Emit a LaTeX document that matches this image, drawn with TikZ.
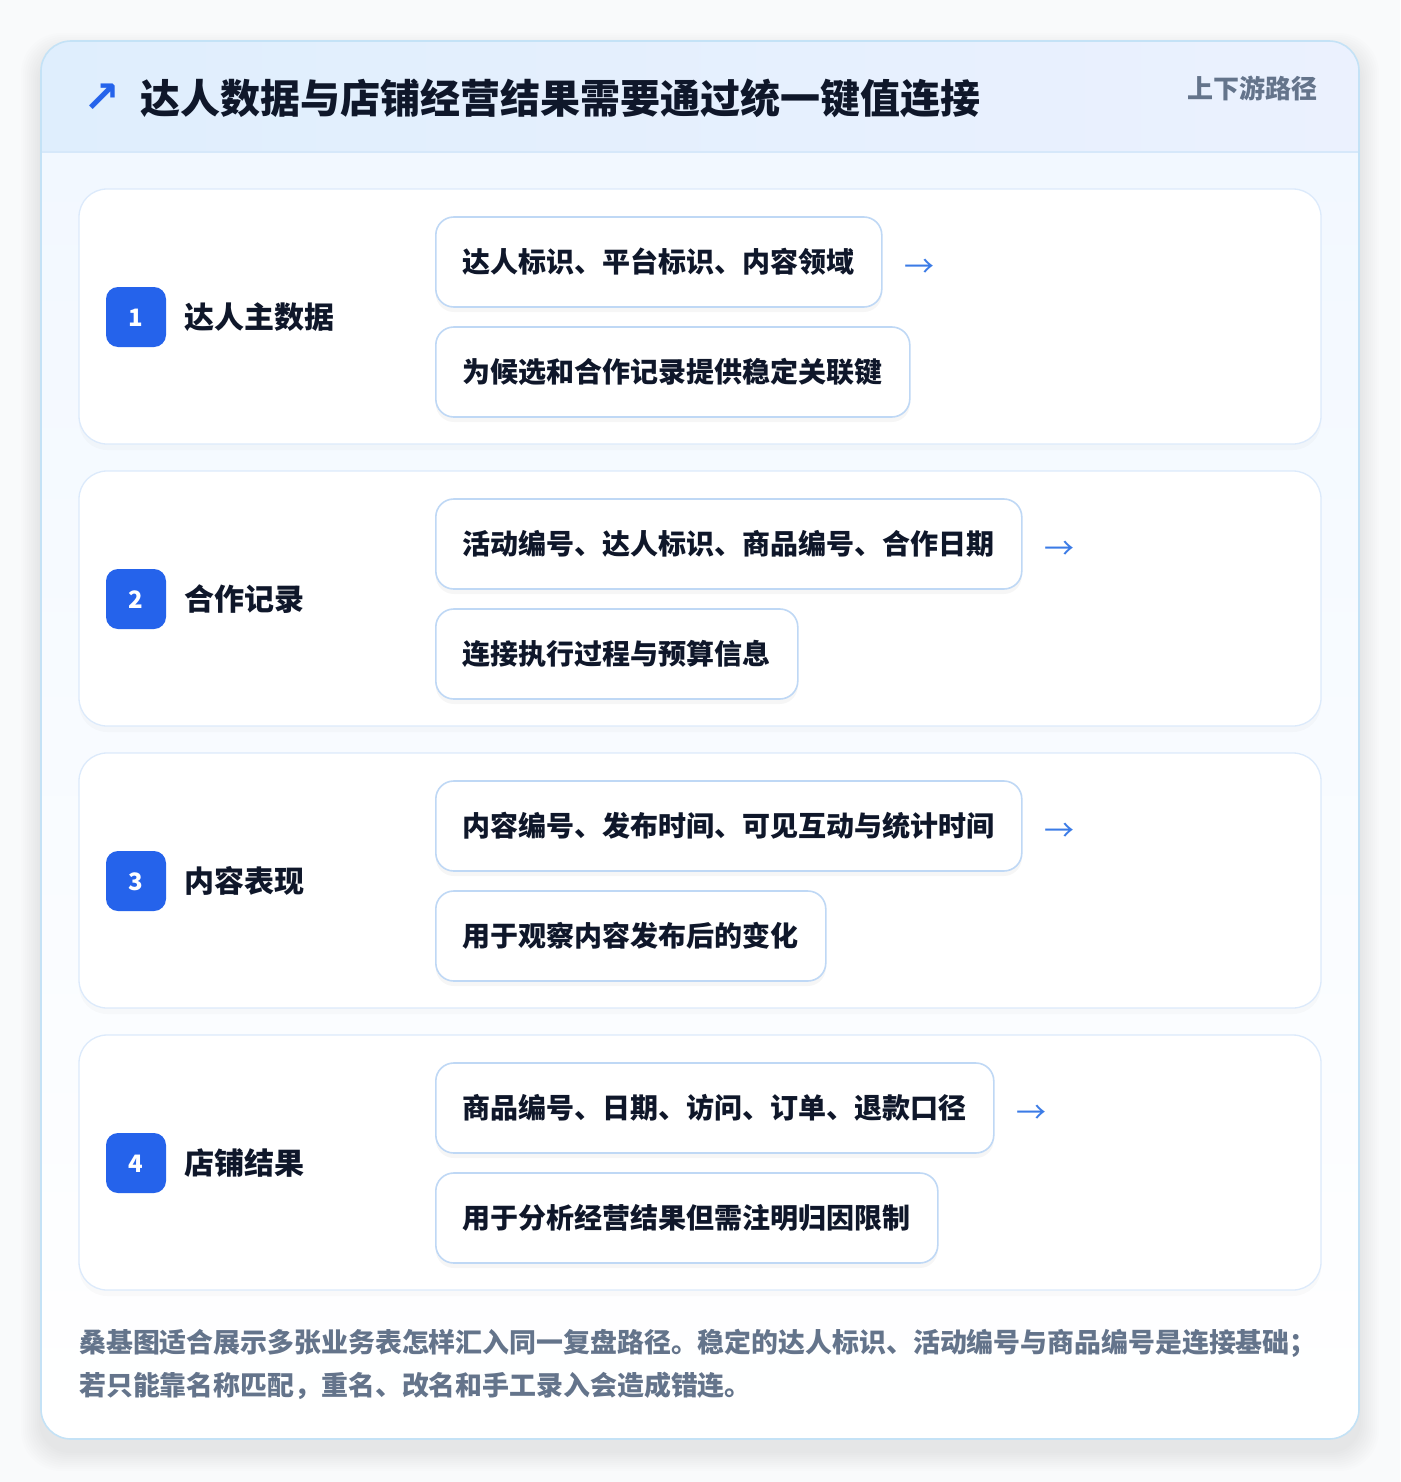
\documentclass[tikz,border=0pt]{standalone}
\usepackage{fontspec}
\setmainfont{Noto Sans CJK SC}
\newfontfamily\symfont{DejaVu Sans}
\usetikzlibrary{calc}
\definecolor{pagebg}{HTML}{F9FAFB}
\definecolor{cardborder}{HTML}{C4E2F6}
\definecolor{headL}{HTML}{DFEEFD}
\definecolor{headR}{HTML}{EBF1FE}
\definecolor{headline}{HTML}{D6E8FA}
\definecolor{bodytop}{HTML}{F2F8FF}
\definecolor{rowborder}{HTML}{DCEAFB}
\definecolor{pillborder}{HTML}{BFD8F5}
\definecolor{badgeblue}{HTML}{2563EB}
\definecolor{arrowblue}{HTML}{3B7BE6}
\definecolor{titlec}{HTML}{0F172A}
\definecolor{grayc}{HTML}{64748B}
\tikzset{
  rowcard/.style={draw=rowborder, line width=1.3pt, fill=white, rounded corners=28pt,
    minimum width=1242pt, minimum height=255pt, inner sep=0pt,
    preaction={fill=black, opacity=0.02, transform canvas={yshift=-6pt}}},
  badge/.style={fill=badgeblue, rounded corners=12pt, minimum width=60pt, minimum height=60pt,
    inner sep=0pt, text=white, font=\fontsize{24}{26}\selectfont\bfseries,
    text height=21.1pt, text depth=2.9pt},
  lab/.style={anchor=west, inner sep=0pt, text=titlec, font=\fontsize{30}{36}\selectfont\bfseries,
    text height=26.4pt, text depth=3.6pt},
  pill/.style={anchor=west, draw=pillborder, line width=1.6pt, fill=white, rounded corners=18pt,
    minimum height=90pt, inner xsep=27pt, inner ysep=0pt, text=titlec,
    font=\fontsize{28}{34}\selectfont\bfseries, text height=24.64pt, text depth=3.36pt,
    preaction={fill=black, opacity=0.035, transform canvas={yshift=-5pt}}},
  arr/.style={anchor=west, inner sep=0pt, text=arrowblue, font=\fontsize{30}{34}\selectfont,
    text height=26.4pt, text depth=3.6pt},
  foot/.style={anchor=west, inner sep=0pt, text=grayc, font=\fontsize{26.9}{32}\selectfont\bfseries,
    text height=23.7pt, text depth=3.2pt},
}
\begin{document}
\begin{tikzpicture}[x=1pt,y=-1pt]
\useasboundingbox (0,0) rectangle (1400,1482);
\fill[pagebg] (0,0) rectangle (1400,1482);
% soft card shadow
\foreach \i in {1,...,10}{
  \fill[black, opacity=0.006, rounded corners=30pt+\i pt]
    (41-2*\i,41-2*\i+12) rectangle (1359+2*\i,1439+2*\i+12);
}
% card
\begin{scope}
\clip[rounded corners=30pt] (41,41) rectangle (1359,1439);
\shade[top color=bodytop, bottom color=white] (41,152) rectangle (1359,1439);
\shade[left color=headL, right color=headR] (41,41) rectangle (1359,152);
\draw[headline, line width=1.2pt] (41,152) -- (1359,152);
\end{scope}
\draw[cardborder, line width=1.6pt, rounded corners=30pt] (41,41) rectangle (1359,1439);

% header
\node[inner sep=0pt, text=badgeblue, font=\symfont\fontsize{44}{48}\selectfont\bfseries] (icon) at (102,98) {↗};
\node[anchor=west, inner sep=0pt, text=titlec, font=\fontsize{40}{48}\selectfont\bfseries,
  text height=35.2pt, text depth=4.8pt] (title) at (140,98) {达人数据与店铺经营结果需要通过统一键值连接};
\node[anchor=east, inner sep=0pt, text=grayc, font=\fontsize{26}{30}\selectfont\bfseries,
  text height=22.9pt, text depth=3.1pt] (tag) at (1318,89) {上下游路径};

% row 1
\node[rowcard] (r1) at (700,316.5) {};
\node[badge] (b1) at (136,317) {1};
\node[lab] (l1) at (184,317) {达人主数据};
\node[pill] (p1a) at (435,262) {达人标识、平台标识、内容领域};
\node[pill] (p1b) at (435,372) {为候选和合作记录提供稳定关联键};
\node[arr] (a1) at ($(p1a.east)+(22,4)$) {→};

% row 2
\node[rowcard] (r2) at (700,598.5) {};
\node[badge] (b2) at (136,599) {2};
\node[lab] (l2) at (184,599) {合作记录};
\node[pill] (p2a) at (435,544) {活动编号、达人标识、商品编号、合作日期};
\node[pill] (p2b) at (435,654) {连接执行过程与预算信息};
\node[arr] (a2) at ($(p2a.east)+(22,4)$) {→};

% row 3
\node[rowcard] (r3) at (700,880.5) {};
\node[badge] (b3) at (136,881) {3};
\node[lab] (l3) at (184,881) {内容表现};
\node[pill] (p3a) at (435,826) {内容编号、发布时间、可见互动与统计时间};
\node[pill] (p3b) at (435,936) {用于观察内容发布后的变化};
\node[arr] (a3) at ($(p3a.east)+(22,4)$) {→};

% row 4
\node[rowcard] (r4) at (700,1162.5) {};
\node[badge] (b4) at (136,1163) {4};
\node[lab] (l4) at (184,1163) {店铺结果};
\node[pill] (p4a) at (435,1108) {商品编号、日期、访问、订单、退款口径};
\node[pill] (p4b) at (435,1218) {用于分析经营结果但需注明归因限制};
\node[arr] (a4) at ($(p4a.east)+(22,4)$) {→};

% footer
\node[foot] (f1) at (79,1342) {桑基图适合展示多张业务表怎样汇入同一复盘路径。稳定的达人标识、活动编号与商品编号是连接基础；};
\node[foot] (f2) at (79,1385) {若只能靠名称匹配，重名、改名和手工录入会造成错连。};
\end{tikzpicture}
\end{document}
